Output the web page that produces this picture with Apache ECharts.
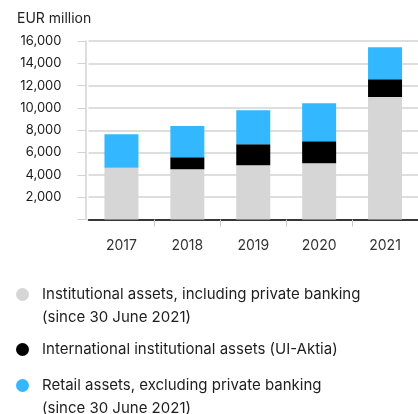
<!DOCTYPE html>
<html>
<head>
<meta charset="utf-8">
<script src="https://cdn.jsdelivr.net/npm/echarts@6/dist/echarts.min.js"></script>
<style>
  html, body { margin: 0; padding: 0; background: #fff; }
  #chart { width: 418px; height: 414px; }
</style>
</head>
<body>
<div id="chart"></div>
<script>
// Assets under management by segment, EUR million
const years = ['2017', '2018', '2019', '2020', '2021'];
const institutional = [4630, 4510, 4870, 5050, 10970];
const international = [0, 1080, 1880, 1970, 1610];
const retail = [3020, 2780, 3050, 3410, 2870];

const seriesNames = [
  'Institutional assets, including private banking\n(since 30 June 2021)',
  'International institutional assets (UI-Aktia)',
  'Retail assets, excluding private banking\n(since 30 June 2021)'
];
const seriesColors = ['#d6d6d6', '#000000', '#33b8ff'];
const seriesValues = [institutional, international, retail];

const FONT = 'Inter, "Noto Sans", sans-serif';
const GRID_COLOR = '#d3d3d3';

const chart = echarts.init(document.getElementById('chart'), null, { renderer: 'canvas' });

// One legend per entry so each can sit at its own position; a leading blank
// line keeps the marker level with the first line of a two-line label.
function legendFor(idx, top, twoLines) {
  return {
    show: true,
    data: [seriesNames[idx]],
    orient: 'vertical',
    left: 16,
    top: top,
    padding: 0,
    itemWidth: 13,
    itemHeight: 13,
    icon: 'circle',
    selectedMode: false,
    formatter: function (name) { return twoLines ? '\n' + name : name; },
    textStyle: {
      fontFamily: FONT,
      fontSize: 15,
      color: '#1e1e1e',
      lineHeight: 23,
      padding: [0, 0, 0, 8]
    }
  };
}

chart.setOption({
  animation: false,
  textStyle: { fontFamily: FONT },
  title: {
    text: 'EUR million',
    left: 17,
    top: 12,
    padding: 0,
    textStyle: { fontFamily: FONT, fontSize: 14, fontWeight: 'normal', color: '#222' }
  },
  legend: [
    legendFor(0, 260, true),
    legendFor(1, 338, false),
    legendFor(2, 351, true)
  ],
  grid: { left: 88.5, top: 41, width: 332, height: 178.5, containLabel: false },
  xAxis: {
    type: 'category',
    data: years,
    axisLine: { lineStyle: { color: '#000', width: 1.5 } },
    axisTick: {
      show: true,
      length: 7,
      lineStyle: { color: '#c8c8c8' },
      interval: function (index) { return index !== 0; }
    },
    axisLabel: { fontFamily: FONT, fontSize: 14, color: '#333', margin: 19 }
  },
  yAxis: {
    type: 'value',
    min: 0,
    max: 16000,
    interval: 2000,
    offset: 3,
    axisLine: { show: true, lineStyle: { color: GRID_COLOR, width: 1.5 } },
    axisTick: { show: true, length: 8, lineStyle: { color: GRID_COLOR } },
    splitLine: { lineStyle: { color: GRID_COLOR, width: 1.5 } },
    axisLabel: {
      fontFamily: FONT,
      fontSize: 13,
      color: '#1a1a1a',
      margin: 24,
      formatter: function (v) { return v === 0 ? '' : v.toLocaleString('en-US'); }
    }
  },
  series: seriesValues.map(function (vals, i) {
    return {
      name: seriesNames[i],
      type: 'bar',
      stack: 'total',
      barWidth: 34,
      data: vals,
      itemStyle: { color: seriesColors[i] }
    };
  })
});
</script>
</body>
</html>
